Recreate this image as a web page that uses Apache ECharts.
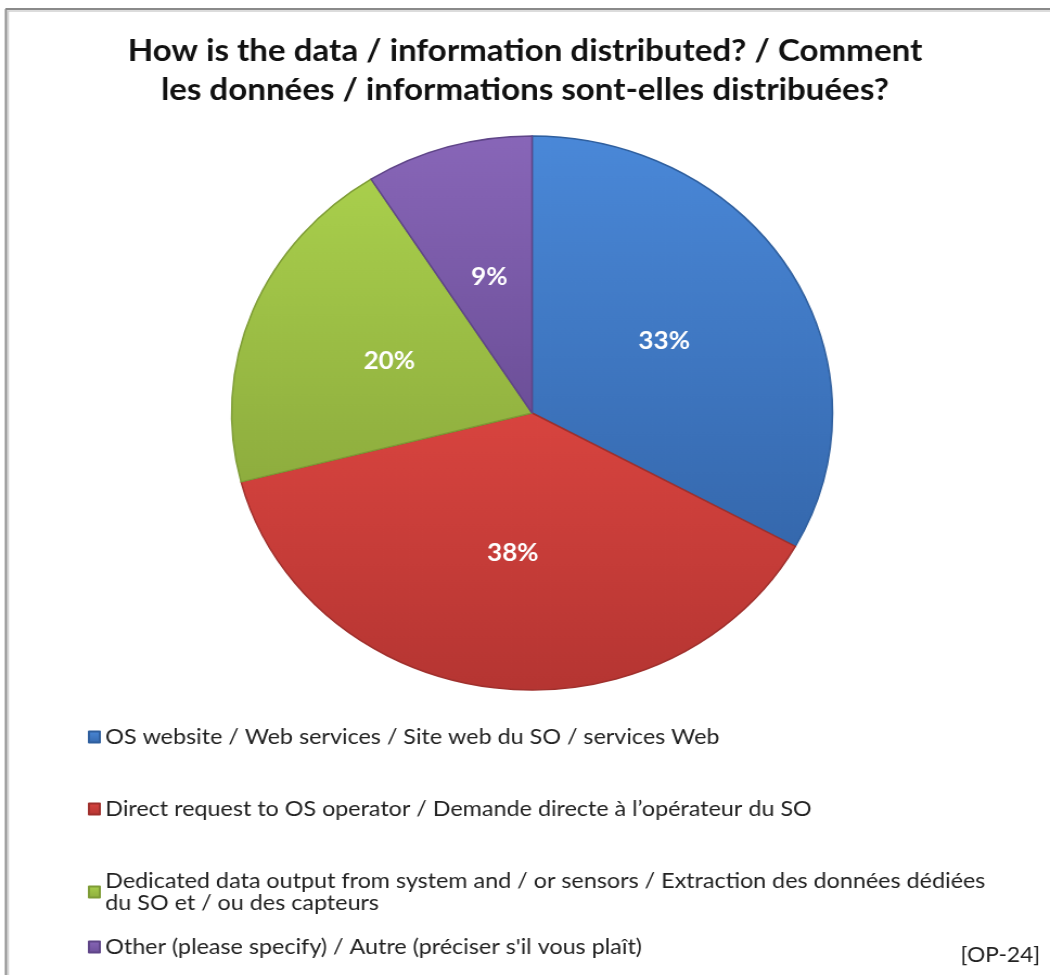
<!DOCTYPE html>
<html><head><meta charset="utf-8">
<script src="https://cdn.jsdelivr.net/npm/echarts@6/dist/echarts.min.js"></script>
<style>html,body{margin:0;padding:0;background:#fff;overflow:hidden}#c{width:968px;height:975px;transform:scaleX(1.0847);transform-origin:0 0}</style>
</head><body><div id="c"></div>
<script>
const titleText = 'How is the data / information distributed? / Comment\nles données / informations sont-elles distribuées?';
const categories = [
  'OS website / Web services / Site web du SO / services Web',
  'Direct request to OS operator / Demande directe à l\u2019opérateur du SO',
  'Dedicated data output from system and / or sensors / Extraction des données dédiées\ndu SO et / ou des capteurs',
  'Other (please specify) / Autre (préciser s\'il vous plaît)'
];
const values = [33, 38, 20, 9];
const noteText = '[OP-24]';

const colorsTop = ['#4a88d8', '#d8443f', '#a9cf4c', '#8866b8'];
const colorsBot = ['#3568ad', '#b53532', '#8ead3e', '#6c4f98'];
const borders = ['#2f5f9e', '#a0302d', '#7e9c36', '#5f4588'];

const chart = echarts.init(document.getElementById('c'));
const legendTops = [721, 793, 865, 931];
const legends = categories.map((c, i) => ({
  orient: 'vertical', left: 76, top: legendTops[i],
  data: [c], itemWidth: 10, itemHeight: 11, icon: 'rect', selectedMode: false,
  textStyle: { fontFamily: 'Lato', fontSize: 21.5, color: '#222', lineHeight: 22 },
  itemGap: 0
}));
chart.setOption({
  animation: false,
  title: {
    text: titleText, left: 'center', top: 27,
    textStyle: { fontFamily: 'Lato', fontWeight: 'bold', fontSize: 30.5, color: '#111', lineHeight: 39 }
  },
  legend: legends,
  graphic: [
    { type: 'line', shape: { x1: 5, y1: 9, x2: 968, y2: 9 }, style: { stroke: '#8a8a8a', lineWidth: 2 }, silent: true },
    { type: 'line', shape: { x1: 5.5, y1: 9, x2: 5.5, y2: 975 }, style: { stroke: '#8a8a8a', lineWidth: 2 }, silent: true },
    { type: 'line', shape: { x1: 6.5, y1: 11, x2: 968, y2: 11 }, style: { stroke: '#d0d0d0', lineWidth: 1.5 }, silent: true },
    { type: 'line', shape: { x1: 7.5, y1: 11, x2: 7.5, y2: 975 }, style: { stroke: '#d0d0d0', lineWidth: 1.5 }, silent: true },
    { type: 'text', right: 9, top: 945, style: { text: noteText, font: '21px Lato', fill: '#222' } }
  ],
  series: [{
    type: 'pie', center: [490.5, 413], radius: 277, startAngle: 90, clockwise: true,
    label: { position: 'inside', formatter: '{c}%', color: '#fff', fontFamily: 'Lato', fontWeight: 'bold', fontSize: 24 },
    labelLine: { show: false },
    data: categories.map((c, i) => ({
      name: c, value: values[i],
      itemStyle: {
        color: { type: 'linear', x: 0, y: 0, x2: 0, y2: 1, colorStops: [{ offset: 0, color: colorsTop[i] }, { offset: 1, color: colorsBot[i] }] },
        borderColor: borders[i], borderWidth: 1.5
      }
    }))
  }]
});
</script></body></html>
